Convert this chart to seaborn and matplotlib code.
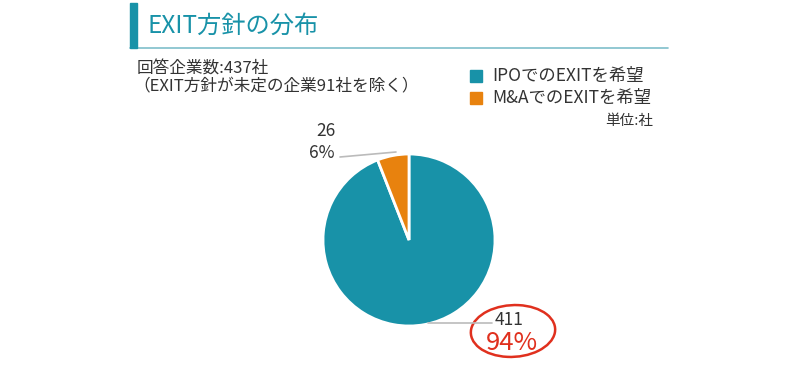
import matplotlib
matplotlib.use("Agg")
import matplotlib.pyplot as plt
import seaborn as sns
from matplotlib.patches import Rectangle, Ellipse
from matplotlib.lines import Line2D
import numpy as np

categories = ["IPOでのEXITを希望", "M&AでのEXITを希望"]
values = [411, 26]
percents = ["94%", "6%"]
colors = ["#1892A8", "#E8820E"]
title = "EXIT方針の分布"
note_lines = ["回答企業数:437社", "（EXIT方針が未定の企業91社を除く）"]
unit = "単位:社"

sns.set_theme(style="white")
plt.rcParams['font.family'] = ['Noto Sans CJK JP', 'DejaVu Sans']

W, H = 800, 378
fig = plt.figure(figsize=(W / 100, H / 100), dpi=100)

def px(x, y):
    return x / W, 1 - y / H

# title bar
fig.patches.append(Rectangle(px(130, 48), 7 / W, 45 / H, transform=fig.transFigure,
                             color="#1892A8", zorder=2))
fig.lines.append(Line2D([130 / W, 668 / W], [1 - 48 / H, 1 - 48 / H], transform=fig.transFigure,
                        color="#7FBFCB", lw=1.2))
fig.text(*px(147, 26), title, fontsize=17.5, color="#1892A8", va="center", ha="left")

fig.text(*px(137, 69), note_lines[0], fontsize=12, color="#333333", va="center")
fig.text(*px(133, 87), note_lines[1], fontsize=12, color="#333333", va="center")

# legend
for i, (c, lab) in enumerate(zip(colors, categories)):
    y = 76 + i * 22
    fig.patches.append(Rectangle(px(470, y + 6), 12 / W, 12 / H, transform=fig.transFigure,
                                 color=c))
    fig.text(*px(492, y), lab, fontsize=12.5, color="#333333", va="center")
fig.text(*px(605, 121), unit, fontsize=10.5, color="#333333", va="center")

# pie
cx, cy, r = 409, 240, 86
ax = fig.add_axes([(cx - r) / W, (H - cy - r) / H, 2 * r / W, 2 * r / H])
ax.pie(values, colors=colors, startangle=90, counterclock=False,
       wedgeprops=dict(edgecolor="white", linewidth=2))
ax.set_xlim(-1, 1)
ax.set_ylim(-1, 1)
ax.set_aspect("auto")
ax.axis("off")

# leader lines
fig.lines.append(Line2D([340 / W, 396 / W], [1 - 157 / H, 1 - 152 / H], transform=fig.transFigure,
                        color="#BBBBBB", lw=1.2))
fig.lines.append(Line2D([428 / W, 492 / W], [1 - 323 / H, 1 - 323 / H], transform=fig.transFigure,
                        color="#BBBBBB", lw=1.2))

# labels
fig.text(*px(326, 131), str(values[1]), fontsize=12.5, color="#333333", ha="center", va="center")
fig.text(*px(322, 153), percents[1], fontsize=12.5, color="#333333", ha="center", va="center")
fig.text(*px(509, 320), str(values[0]), fontsize=12.5, color="#333333", ha="center", va="center")
fig.text(*px(512, 343), percents[0], fontsize=18.5, color="#E0301E", ha="center", va="center")

ell = Ellipse(px(513, 331), 84 / W, 52 / H, angle=-6, transform=fig.transFigure,
              fill=False, edgecolor="#E0301E", lw=1.8)
fig.patches.append(ell)

fig.savefig("out.png", dpi=100, facecolor="white")
